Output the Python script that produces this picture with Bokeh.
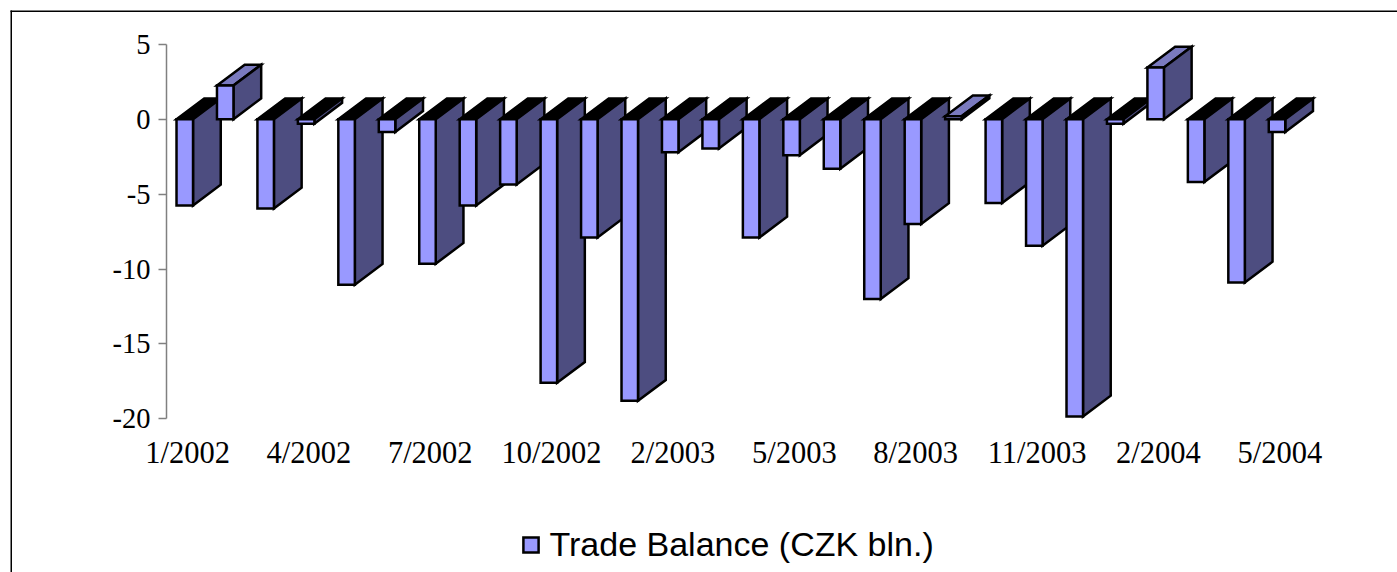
from bokeh.embed import file_html
from bokeh.resources import INLINE
from bokeh.plotting import figure
from bokeh.models import (Range1d, FixedTicker, ColumnDataSource, Legend, LegendItem,
                          BoxAnnotation)

# --- data -----------------------------------------------------------------
MONTHS = ["1/2002", "2/2002", "3/2002", "4/2002", "5/2002", "6/2002", "7/2002",
          "8/2002", "9/2002", "10/2002", "11/2002", "12/2002", "2/2003", "3/2003",
          "4/2003", "5/2003", "6/2003", "7/2003", "8/2003", "9/2003", "10/2003",
          "11/2003", "12/2003", "1/2004", "2/2004", "3/2004", "4/2004", "5/2004"]
TRADE_BALANCE = [-5.76, 2.25, -5.96, -0.3, -11.05, -0.85, -9.65, -5.76, -4.36,
                 -17.6, -7.9, -18.8, -2.2, -1.95, -7.9, -2.4, -3.3, -12.0, -7.0,
                 0.2, -5.6, -8.45, -19.85, -0.3, 3.45, -4.2, -10.9, -0.85]
Y_TICKS = [5, 0, -5, -10, -15, -20]
SERIES = "Trade Balance (CZK bln.)"

# --- styling ---------------------------------------------------------------
FRONT, SIDE, TOP_POS, TOP_NEG = "#9999FF", "#4D4D80", "#7A7ABF", "#000000"
BAR_L, BAR_R = -0.272, 0.136          # front face, relative to the category
DEPTH_X, DEPTH_Y = 0.685, 1.39        # oblique depth in data units
SERIF = "Liberation Serif"

xs, ys, fills = [], [], []
legend_index = None
for i, v in enumerate(TRADE_BALANCE):
    l, r = i + BAR_L, i + BAR_R
    hi = max(v, 0)
    xs.append([l, r, r + DEPTH_X, l + DEPTH_X])          # top face
    ys.append([hi, hi, hi + DEPTH_Y, hi + DEPTH_Y])
    fills.append(TOP_NEG if v < 0 else TOP_POS)
    xs.append([r, r + DEPTH_X, r + DEPTH_X, r])          # side face
    ys.append([0, DEPTH_Y, v + DEPTH_Y, v])
    fills.append(SIDE)
    xs.append([l, r, r, l])                              # front face
    ys.append([0, 0, v, v])
    fills.append(FRONT)
    if legend_index is None:
        legend_index = len(fills) - 1

# The plot frame fills the whole canvas; axes are pinned at fixed data locations.
p = figure(width=1397, height=572, output_backend="svg", toolbar_location=None,
           x_range=Range1d(-4.623, 29.91), y_range=Range1d(-30.26, 7.924),
           min_border=0, outline_line_color=None)
p.grid.visible = False

src = ColumnDataSource(dict(xs=xs, ys=ys, fill=fills))
bars = p.patches("xs", "ys", source=src, fill_color="fill", line_color="black",
                 line_width=2.5, line_join="miter")

ax = p.xaxis[0]
ax.fixed_location = -20
shown = list(range(0, len(MONTHS), 3))
ax.ticker = FixedTicker(ticks=shown)
ax.major_label_overrides = {i: MONTHS[i] for i in shown}
ax.axis_line_color = None
ax.major_tick_line_color = None
ax.minor_tick_line_color = None
ax.major_label_text_font = SERIF
ax.major_label_text_font_size = "30.5px"
ax.major_label_text_color = "black"
ax.major_label_standoff = 11

ay = p.yaxis[0]
ay.fixed_location = -0.52
ay.bounds = (-20, 5)
ay.ticker = FixedTicker(ticks=Y_TICKS)
ay.major_label_overrides = {t: str(t) for t in Y_TICKS}
ay.axis_line_color = "#808080"
ay.axis_line_width = 1.5
ay.major_tick_line_color = "#808080"
ay.major_tick_line_width = 1.5
ay.major_tick_in = 0
ay.major_tick_out = 8
ay.minor_tick_line_color = None
ay.major_label_text_font = SERIF
ay.major_label_text_font_size = "28.5px"
ay.major_label_text_color = "black"
ay.major_label_standoff = 8

legend = Legend(items=[LegendItem(label=SERIES, renderers=[bars], index=legend_index)],
                location=(520.5, 8), orientation="horizontal",
                label_text_font="Liberation Sans", label_text_font_size="34px",
                label_text_color="black", glyph_width=19, glyph_height=19,
                label_standoff=10, padding=0, margin=0, border_line_color=None,
                background_fill_alpha=0)
p.add_layout(legend, "center")

# chart-area border: only its top and left edges fall inside the window
# (screen y of a box annotation counts up from the bottom of the canvas)
for edges in (dict(left=10, right=1397, top=562, bottom=560.5),
              dict(left=10, right=11.5, top=562, bottom=0)):
    p.add_layout(BoxAnnotation(left_units="screen", right_units="screen",
                               top_units="screen", bottom_units="screen",
                               fill_color="black", fill_alpha=1, line_color=None,
                               editable=False, **edges))

open("out.html", "w").write(file_html(p, INLINE))
